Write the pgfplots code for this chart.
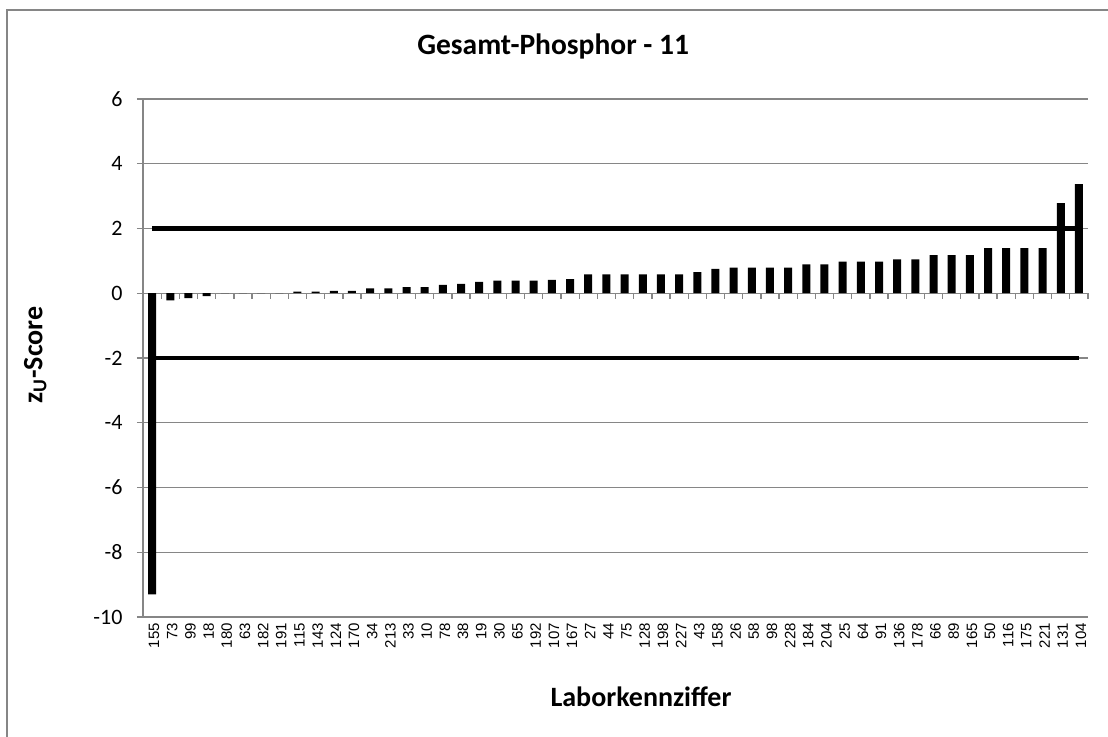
\documentclass[border=0pt]{standalone}
\usepackage{pgfplots}
\pgfplotsset{compat=1.18}
\usepackage{fontspec}
\setmainfont{Carlito}
\newfontfamily\arialfont{Liberation Sans}
\definecolor{axgray}{RGB}{134,134,134}
\begin{document}
\begin{tikzpicture}
\useasboundingbox (-143pt,-119pt) rectangle (965pt,617pt);
\draw[axgray, line width=1.5pt] (-136pt,-125pt) -- (-136pt,607pt) -- (975pt,607pt);
\begin{axis}[
  scale only axis,
  width=945pt, height=518pt,
  xmin=-0.5, xmax=51.5,
  ymin=-10, ymax=6,
  ytick={-10,-8,-6,-4,-2,0,2,4,6},
  yticklabels={-10,-8,-6,-4,-2,0,2,4,6},
  ymajorgrids,
  grid style={axgray, line width=1.3pt},
  axis x line*=bottom,
  axis y line*=left,
  axis line style={axgray, line width=1.3pt},
  tick align=outside,
  ytick style={axgray, line width=1.3pt},
  major tick length=6pt,
  xtick={0,...,51},
  xtick style={draw=none},
  xticklabels={155,73,99,18,180,63,182,191,115,143,124,170,34,213,33,10,78,38,19,30,65,192,107,167,27,44,75,128,198,227,43,158,26,58,98,228,184,204,25,64,91,136,178,66,89,165,50,116,175,221,131,104},
  xticklabel style={rotate=90, anchor=east, font=\arialfont\fontsize{15}{18}\selectfont, inner sep=1pt, xshift=1pt, yshift=-2pt},
  yticklabel style={font=\fontsize{22}{26}\selectfont, xshift=-11pt},
  title={Gesamt-Phosphor - 11},
  title style={at={(rel axis cs:0.434,1.089)}, anchor=center, font=\bfseries\fontsize{29.5}{33}\selectfont},
  xlabel={Laborkennziffer},
  xlabel style={at={(rel axis cs:0.527,-0.154)}, anchor=center, font=\bfseries\fontsize{28}{32}\selectfont},
  ylabel={z\textsubscript{U}-Score},
  ylabel style={at={(rel axis cs:-0.114,0.506)}, anchor=center, rotate=0, font=\bfseries\fontsize{28}{32}\selectfont},
  clip=false,
]
\addplot[ybar, bar width=8pt, fill=black, draw=none] coordinates {
(0,-9.3) (1,-0.22) (2,-0.15) (3,-0.09) (4,0) (5,0) (6,0) (7,0)
(8,0.05) (9,0.05) (10,0.07) (11,0.07) (12,0.15) (13,0.15) (14,0.19) (15,0.19)
(16,0.26) (17,0.29) (18,0.35) (19,0.39) (20,0.39) (21,0.39) (22,0.41) (23,0.44)
(24,0.58) (25,0.58) (26,0.58) (27,0.58) (28,0.58) (29,0.58) (30,0.65) (31,0.75)
(32,0.79) (33,0.79) (34,0.79) (35,0.79) (36,0.89) (37,0.89) (38,0.98) (39,0.98)
(40,0.98) (41,1.05) (42,1.05) (43,1.18) (44,1.18) (45,1.18) (46,1.39) (47,1.39)
(48,1.39) (49,1.39) (50,2.78) (51,3.37)
};
\addplot[black, line width=4.5pt] coordinates {(0,2) (51,2)};
\addplot[black, line width=4.5pt] coordinates {(0,-2) (51,-2)};
\pgfplotsinvokeforeach{-0.5,0.5,...,51.5}{
  \draw[axgray, line width=1.3pt] (axis cs:#1,0) -- ++(0pt,-6pt);
}
\end{axis}
\end{tikzpicture}
\end{document}
